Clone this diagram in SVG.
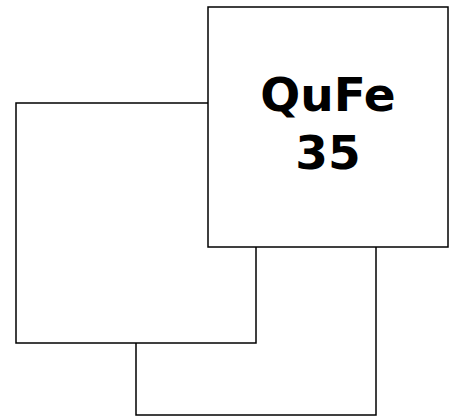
<svg xmlns="http://www.w3.org/2000/svg" width="455" height="419" viewBox="0 0 455 419">
<style>
.box{fill:#fff;stroke:#000;stroke-width:1.5}
.lbl{font-family:"DejaVu Sans",Verdana,sans-serif;font-weight:bold;font-size:47px;fill:#000;text-anchor:middle}
</style>
<rect width="455" height="419" fill="#fff"/>
<g id="node-b"><rect class="box" x="136" y="175" width="240" height="240"/></g>
<g id="node-a"><rect class="box" x="16" y="103" width="240" height="240"/></g>
<g id="node-c"><rect class="box" x="208" y="7" width="240" height="240"/>
<text class="lbl" x="328" y="111">QuFe</text>
<text class="lbl" x="328" y="169">35</text></g>
<g id="connectors"></g>
</svg>
